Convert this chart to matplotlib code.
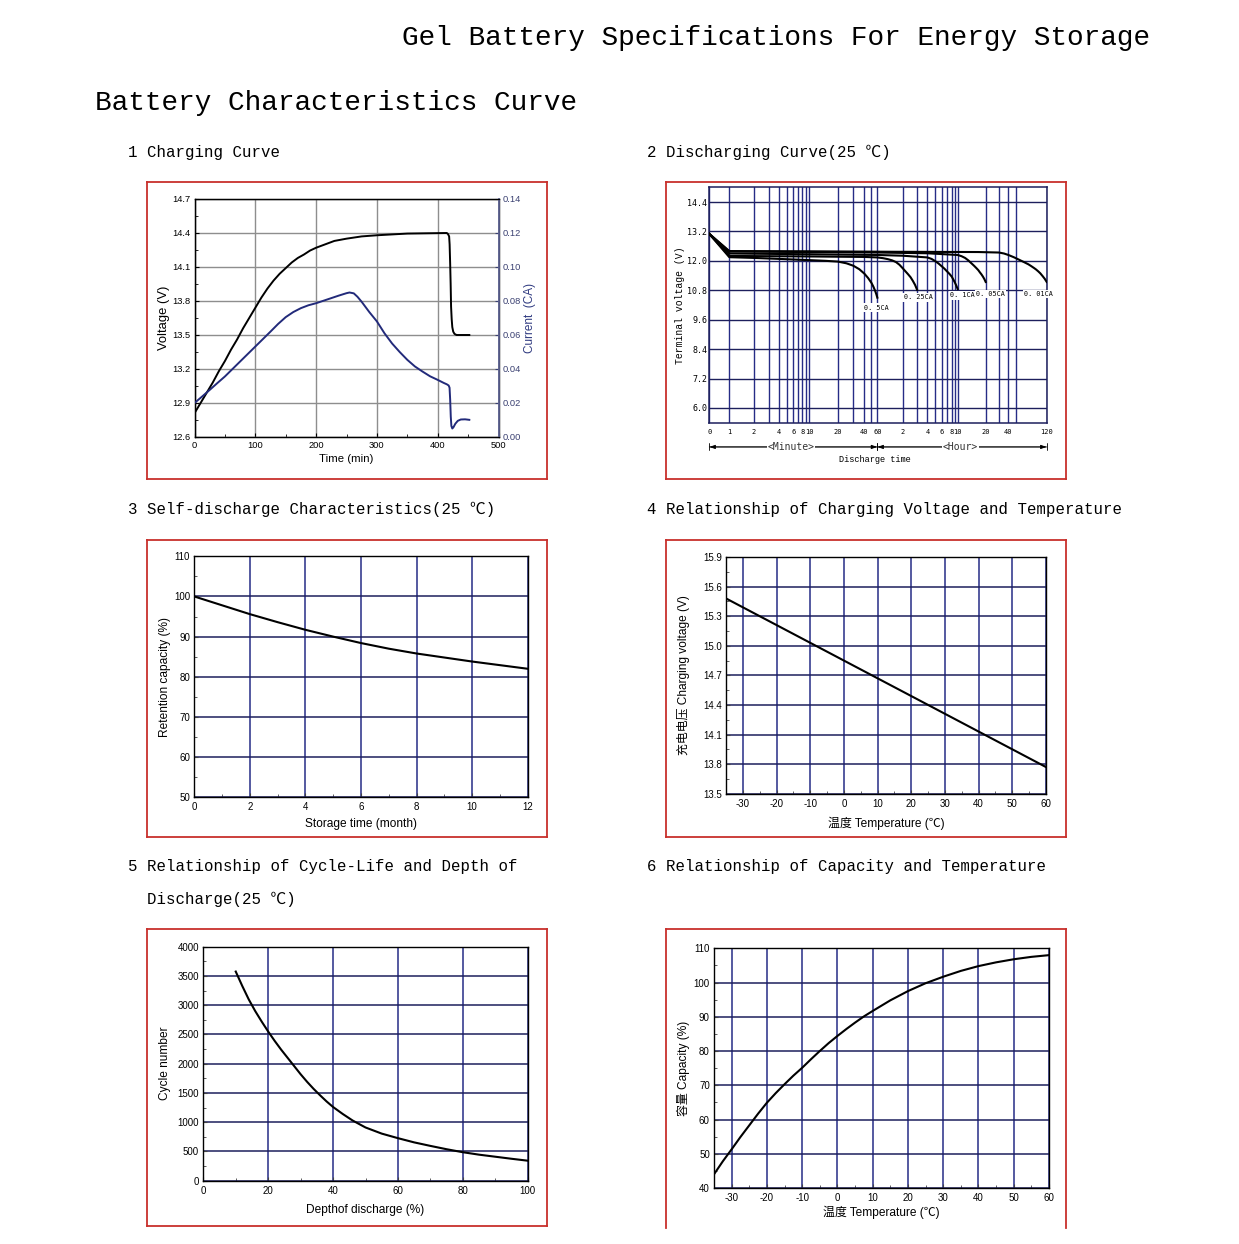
import numpy as np
import matplotlib
matplotlib.use("Agg")
import matplotlib.pyplot as plt
import matplotlib.transforms as mtransforms
from matplotlib.lines import Line2D
from matplotlib.ticker import MultipleLocator, FixedLocator, FormatStrFormatter, NullFormatter

plt.rcParams['axes.unicode_minus'] = False
MONO = ['Liberation Mono', 'Noto Sans CJK SC', 'DejaVu Sans']
SANS = ['Liberation Sans', 'Noto Sans CJK SC', 'DejaVu Sans']
DIGI = ['DejaVu Sans Mono', 'Noto Sans CJK SC']
plt.rcParams['font.family'] = SANS

# ---------------- texts ----------------
main_title = "Gel Battery Specifications For Energy Storage"
section_title = "Battery Characteristics Curve"
sub_titles = ["1 Charging Curve", "2 Discharging Curve(25 ℃)",
              "3 Self-discharge Characteristics(25 ℃)",
              "4 Relationship of Charging Voltage and Temperature",
              "5 Relationship of Cycle-Life and Depth of", "Discharge(25 ℃)",
              "6 Relationship of Capacity and Temperature"]

# ---------------- 1 charging curve ----------------
charge_time_v = [0, 10, 20, 30, 40, 50, 60, 70, 80, 90, 100, 110, 120, 130, 140, 150, 160, 170, 180, 190, 200,
                 215, 230, 250, 275, 300, 350, 415, 417, 418.8, 419.6, 420.5, 421.3, 422, 423, 424, 425.5,
                 427.6, 431, 452]
charge_voltage = [12.81, 12.9, 12.99, 13.08, 13.18, 13.27, 13.37, 13.46, 13.56, 13.65, 13.74, 13.83, 13.91,
                  13.98, 14.04, 14.09, 14.14, 14.18, 14.21, 14.245, 14.27, 14.3, 14.33, 14.35, 14.37, 14.38,
                  14.395, 14.4, 14.39, 14.37, 14.3, 14.13, 13.95, 13.75, 13.64, 13.57, 13.53, 13.51, 13.5, 13.5]
charge_time_i = [0, 12.5, 25, 37.5, 50, 62.5, 75, 87.5, 100, 112.5, 125, 137.5, 150, 162.5, 175, 187.5, 200,
                 212.5, 225, 237.5, 250, 255, 262, 268, 275, 287.5, 300, 312.5, 325, 337.5, 350, 362.5, 375,
                 387.5, 400, 410, 415, 418, 419.5, 420.5, 421.5, 422.5, 424, 426, 429, 433, 438, 445, 452]
charge_current = [0.020, 0.0238, 0.0277, 0.0317, 0.0356, 0.040, 0.0444, 0.0488, 0.0532, 0.0576, 0.062,
                  0.0665, 0.0705, 0.0735, 0.0758, 0.0775, 0.0787, 0.0802, 0.0817, 0.0832, 0.0846, 0.085,
                  0.0845, 0.0825, 0.0795, 0.0735, 0.068, 0.061, 0.055, 0.050, 0.0454, 0.0415, 0.0385, 0.0357,
                  0.0336, 0.0318, 0.031, 0.0303, 0.029, 0.022, 0.012, 0.0065, 0.005, 0.0058, 0.0078, 0.0095,
                  0.0103, 0.0104, 0.0101]

# ---------------- 2 discharging curve (time in minutes) ----------------
dis_labels = ['0. 5CA', '0. 25CA', '0. 1CA', '0. 05CA', '0. 01CA']
t_05 = [0, 1, 2, 4, 10, 15, 20, 25, 30, 35, 40, 45, 50, 53, 56, 58, 60]
v_05 = [13.1, 12.15, 12.12, 12.08, 12.03, 12.0, 11.97, 11.9, 11.8, 11.66, 11.48, 11.3, 11.1, 10.95, 10.78,
        10.65, 10.5]
t_025 = [0, 1, 10, 40, 60, 70, 80, 90, 100, 110, 120, 130, 140, 150, 160, 170, 180]
v_025 = [13.1, 12.2, 12.18, 12.16, 12.14, 12.11, 12.07, 12.02, 11.95, 11.84, 11.7, 11.57, 11.45, 11.33, 11.18,
         11.02, 10.82]
t_01 = [0, 1, 10, 60, 120, 240, 270, 300, 330, 360, 390, 420, 450, 480, 510, 540, 570, 600]
v_01 = [13.1, 12.3, 12.27, 12.24, 12.21, 12.14, 12.08, 11.99, 11.89, 11.78, 11.68, 11.57, 11.47, 11.36, 11.24,
        11.12, 10.99, 10.85]
t_005 = [0, 1, 10, 60, 240, 600, 660, 720, 780, 849, 900, 950, 1000, 1040, 1080, 1120, 1160, 1200]
v_005 = [13.1, 12.38, 12.36, 12.34, 12.31, 12.24, 12.19, 12.12, 12.02, 11.89, 11.8, 11.71, 11.62, 11.53, 11.45,
         11.36, 11.26, 11.14]
t_001 = [0, 1, 10, 100, 1000, 1800, 2100, 2400, 2800, 3197, 3700, 4257, 4600, 5000, 5300, 5660, 6000, 6400,
         6800, 7200]
v_001 = [13.1, 12.4, 12.39, 12.37, 12.36, 12.34, 12.3, 12.24, 12.15, 12.06, 11.96, 11.86, 11.79, 11.71, 11.65,
         11.57, 11.49, 11.38, 11.27, 11.14]
dis_times = [t_05, t_025, t_01, t_005, t_001]
dis_volts = [v_05, v_025, v_01, v_005, v_001]
dis_tick_min = [0, 1, 2, 4, 6, 8, 10, 20, 40, 60, 120, 240, 360, 480, 600, 1200, 2400, 7200]
dis_tick_lbl = ['0', '1', '2', '4', '6', '8', '10', '20', '40', '60', '2', '4', '6', '8', '10', '20', '40',
                '120']
dis_grid_min = [3, 5, 7, 9, 30, 50, 180, 300, 420, 540, 1800, 3000]
dis_yticks = [6.0, 7.2, 8.4, 9.6, 10.8, 12.0, 13.2, 14.4]
# relative position of the time ticks along the discharge axis (defines the nonlinear scale)
axis_knot_pos = [133, 193, 267, 342, 385, 412, 432, 519, 598, 637, 713, 787, 830, 860, 878, 962, 1030, 1145]

# ---------------- 3 self discharge ----------------
store_month = [0, 1, 2, 3, 4, 5, 6, 7, 8, 9, 10, 11, 12]
retention = [100, 97.8, 95.6, 93.6, 91.7, 90.0, 88.4, 87.0, 85.8, 84.8, 83.8, 82.9, 82.0]

# ---------------- 4 charging voltage vs temp ----------------
cv_temp = [-35, -20, 0, 20, 40, 60]
cv_volt = [15.48, 15.21, 14.85, 14.49, 14.13, 13.77]

# ---------------- 5 cycle life ----------------
dod = [10, 12, 14, 16, 18, 20, 22, 24, 26, 28, 30, 32, 34, 36, 38, 40, 43, 46, 50, 55, 60, 65, 70, 75, 80, 85,
       90, 95, 100]
cycles = [3575, 3330, 3100, 2900, 2720, 2550, 2390, 2240, 2100, 1960, 1820, 1690, 1570, 1460, 1355, 1260, 1140,
          1030, 910, 805, 727, 655, 595, 538, 487, 445, 410, 375, 342]

# ---------------- 6 capacity vs temp ----------------
cap_temp = [-35, -32.5, -30, -27.5, -25, -22.5, -20, -17.5, -15, -12.5, -10, -7.5, -5, -2.5, 0, 2.5, 5, 7.5, 10,
            15, 20, 25, 30, 35, 40, 45, 50, 55, 60]
capacity = [44, 47.8, 51.3, 54.9, 58.3, 61.7, 64.9, 67.7, 70.3, 72.8, 75.1, 77.6, 80.0, 82.3, 84.4, 86.4, 88.3,
            90.1, 91.7, 94.8, 97.5, 99.8, 101.7, 103.4, 104.8, 105.9, 106.8, 107.5, 108.0]

# ======================================================================
W, H = 1239, 1244
fig = plt.figure(figsize=(W / 100, H / 100), dpi=100)


def frect(left, top, right, bottom):
    return [left / W, 1 - bottom / H, (right - left) / W, (bottom - top) / H]


def ftext(x, y, s, **kw):
    fig.text(x / W, 1 - y / H, s, **kw)


RED = '#c8302c'


def red_box(left, top, right, bottom, sides='ltrb'):
    xs = {'l': [(left, top), (left, bottom)], 'r': [(right, top), (right, bottom)],
          't': [(left, top), (right, top)], 'b': [(left, bottom), (right, bottom)]}
    for s in sides:
        (x0, y0), (x1, y1) = xs[s]
        fig.add_artist(Line2D([x0 / W, x1 / W], [1 - y0 / H, 1 - y1 / H], color=RED, lw=1.3,
                              transform=fig.transFigure))


# titles
ftext(402, 38, main_title, fontsize=20, family=MONO, va='center', ha='left')
ftext(95, 103, section_title, fontsize=20, family=MONO, va='center', ha='left')
sub_pos = [(128, 152), (647, 152), (128, 509), (647, 509), (128, 867), (147, 899), (647, 867)]
for (x, y), s in zip(sub_pos, sub_titles):
    ftext(x, y, s, fontsize=11.3, family=MONO, va='center', ha='left')

red_box(147, 182, 547, 479)
red_box(666, 182, 1066, 479)
red_box(147, 540, 547, 837)
red_box(666, 540, 1066, 837)
red_box(147, 929, 547, 1226)
red_box(666, 929, 1066, 1228, sides='ltr')

NAVY_V = '#262c86'
NAVY_H = '#1d1f5c'

# ---------------- panel 1 ----------------
ax1 = fig.add_axes(frect(194.5, 199, 498.5, 437))
ax1.plot(charge_time_v, charge_voltage, color='black', lw=1.4, zorder=4)
ax1.set_xlim(0, 500)
ax1.set_ylim(12.6, 14.7)
ax1.xaxis.set_major_locator(MultipleLocator(100))
ax1.xaxis.set_minor_locator(MultipleLocator(50))
ax1.yaxis.set_major_locator(FixedLocator([12.6, 12.9, 13.2, 13.5, 13.8, 14.1, 14.4, 14.7]))
ax1.yaxis.set_minor_locator(FixedLocator([12.75, 13.05, 13.35, 13.65, 13.95, 14.25, 14.55]))
ax1.yaxis.set_major_formatter(FormatStrFormatter('%.1f'))
ax1.grid(True, which='major', color='#8e8e8e', lw=1.0)
ax1.tick_params(which='both', direction='in', labelsize=6.7, pad=3)
ax1.tick_params(which='major', length=3)
ax1.tick_params(which='minor', length=2.5)
ax1.set_xlabel('Time (min)', fontsize=8.2, labelpad=3)
ax1.set_ylabel('Voltage (V)', fontsize=9.4, labelpad=1.5)
for s in ax1.spines.values():
    s.set_linewidth(1.0)
ax1b = ax1.twinx()
ax1b.plot(charge_time_i, charge_current, color='#222a7a', lw=1.4, zorder=4)
ax1b.set_ylim(0, 0.14)
ax1b.yaxis.set_major_locator(MultipleLocator(0.02))
ax1b.yaxis.set_major_formatter(FormatStrFormatter('%.2f'))
ax1b.tick_params(direction='in', labelsize=6.7, length=3, colors='#3b4172', pad=3)
ax1b.spines['right'].set_color('#5b6190')
ax1b.spines['right'].set_linewidth(1.3)
ax1b.set_ylabel('Current  (CA)', fontsize=8.5, color='#2f3a80', labelpad=2)

# ---------------- panel 2 ----------------
_kmin = np.array(dis_tick_min, dtype=float)
_kpos = (np.array(axis_knot_pos, dtype=float) - axis_knot_pos[0]) / (axis_knot_pos[-1] - axis_knot_pos[0])


def _u(x):
    x = np.asarray(x, dtype=float)
    return np.where(x >= 1, np.log10(np.maximum(x, 1e-12)), x - 1)


def _uinv(u):
    u = np.asarray(u, dtype=float)
    return np.where(u >= 0, 10 ** np.clip(u, -20, 20), u + 1)


_ku = _u(_kmin)


def _interp_ext(x, xp, fp):
    x = np.asarray(x, dtype=float)
    y = np.interp(x, xp, fp)
    s0 = (fp[1] - fp[0]) / (xp[1] - xp[0])
    s1 = (fp[-1] - fp[-2]) / (xp[-1] - xp[-2])
    y = np.where(x < xp[0], fp[0] + (x - xp[0]) * s0, y)
    y = np.where(x > xp[-1], fp[-1] + (x - xp[-1]) * s1, y)
    return y


def fwd(x):
    return _interp_ext(_u(x), _ku, _kpos)


def inv(y):
    return _uinv(_interp_ext(y, _kpos, _ku))


ax2 = fig.add_axes(frect(709.3, 187.3, 1046.7, 422.7))
ax2.set_xscale('function', functions=(fwd, inv))
for t, v in zip(dis_times, dis_volts):
    ax2.plot(t, v, color='black', lw=1.5, zorder=3)
ax2.set_xlim(0, 7200)
ax2.set_ylim(5.4, 15.0)
ax2.xaxis.set_major_locator(FixedLocator(dis_tick_min))
ax2.xaxis.set_major_formatter(plt.FixedFormatter(dis_tick_lbl))
ax2.xaxis.set_minor_locator(FixedLocator(dis_grid_min))
ax2.xaxis.set_minor_formatter(NullFormatter())
ax2.yaxis.set_major_locator(FixedLocator(dis_yticks))
ax2.yaxis.set_major_formatter(FormatStrFormatter('%.1f'))
ax2.yaxis.set_minor_locator(FixedLocator([5.4 + 0.6 * k for k in range(1, 16, 2)]))
ax2.grid(True, which='both', axis='x', color=NAVY_V, lw=1.0)
ax2.grid(True, which='both', axis='y', color=NAVY_H, lw=1.0)
ax2.tick_params(which='both', length=0, labelsize=5.0)
ax2.tick_params(axis='x', pad=4.5)
ax2.tick_params(axis='y', pad=1.5, labelsize=6)
for lab in ax2.get_xticklabels() + ax2.get_yticklabels():
    lab.set_family(DIGI)
for s in ax2.spines.values():
    s.set_color(NAVY_H)
    s.set_linewidth(1.1)
ax2.set_ylabel('Terminal voltage (V)', fontsize=7, family=MONO, labelpad=1.5)
label_xy = [(40, 10.09), (124, 10.51), (457, 10.59), (945, 10.65), (3760, 10.65)]
for (x, y), s in zip(label_xy, dis_labels):
    ax2.text(x, y, s, fontsize=4.9, family=DIGI, ha='left', va='center', zorder=5,
             bbox=dict(fc='white', ec='none', pad=1.0))
trans = mtransforms.blended_transform_factory(ax2.transData, ax2.transAxes)
for x0, x1 in [(0, 60), (60, 7200)]:
    ax2.annotate('', xy=(x1, -0.103), xytext=(x0, -0.103), xycoords=trans, textcoords=trans,
                 arrowprops=dict(arrowstyle='<|-|>, head_length=0.35, head_width=0.12', lw=0.6,
                                 color='black', shrinkA=0, shrinkB=0), annotation_clip=False)
    ax2.annotate('', xy=(x1, -0.103), xytext=(x0, -0.103), xycoords=trans, textcoords=trans,
                 arrowprops=dict(arrowstyle='|-|, widthA=0.25, widthB=0.25', lw=0.6,
                                 color='black', shrinkA=0, shrinkB=0), annotation_clip=False)
ax2.text(5.6, -0.103, '<Minute>', transform=trans, fontsize=7, family=DIGI, ha='center', va='center',
         bbox=dict(fc='white', ec='none', pad=0.6), clip_on=False, color='#333333')
ax2.text(640, -0.103, '<Hour>', transform=trans, fontsize=7, family=DIGI, ha='center', va='center',
         bbox=dict(fc='white', ec='none', pad=0.6), clip_on=False, color='#333333')
ax2.text(56, -0.158, 'Discharge time', transform=trans, fontsize=6.2, family=MONO, ha='center',
         va='center', clip_on=False)


# ---------------- generic panels ----------------
def std_panel(rect, x, y, xlim, ylim, xmaj, xmin, ymaj, ymin, xlabel, ylabel, yfmt=None,
              xlabelpad=4, ylabelpad=3, xpad=3.5, ypad=3):
    ax = fig.add_axes(frect(*rect))
    ax.plot(x, y, color='black', lw=1.5, zorder=3)
    ax.set_xlim(*xlim)
    ax.set_ylim(*ylim)
    ax.xaxis.set_major_locator(MultipleLocator(xmaj))
    ax.xaxis.set_minor_locator(MultipleLocator(xmin))
    ax.yaxis.set_major_locator(MultipleLocator(ymaj))
    ax.yaxis.set_minor_locator(MultipleLocator(ymin))
    if yfmt:
        ax.yaxis.set_major_formatter(FormatStrFormatter(yfmt))
    ax.grid(True, which='major', axis='x', color=NAVY_V, lw=1.1)
    ax.grid(True, which='major', axis='y', color=NAVY_H, lw=1.1)
    ax.tick_params(which='both', direction='in', labelsize=7, color='#444444')
    ax.tick_params(which='major', length=3)
    ax.tick_params(which='minor', length=2.5)
    ax.tick_params(axis='x', pad=xpad)
    ax.tick_params(axis='y', pad=ypad)
    for s in ax.spines.values():
        s.set_color('black')
        s.set_linewidth(1.0)
    ax.set_xlabel(xlabel, fontsize=8.6, labelpad=xlabelpad, family=SANS)
    ax.set_ylabel(ylabel, fontsize=8.6, labelpad=ylabelpad, family=SANS)
    return ax


std_panel((194.3, 556.3, 527.7, 797.3), store_month, retention, (0, 12), (50, 110), 2, 1, 10, 5,
          'Storage time (month)', 'Retention capacity (%)', xlabelpad=4, ylabelpad=2.5)
std_panel((726, 557, 1046, 793.7), cv_temp, cv_volt, (-35, 60), (13.5, 15.9), 10, 5, 0.3, 0.15,
          '温度 Temperature (℃)', '充电电压 Charging voltage (V)', yfmt='%.1f', xlabelpad=5.5, ylabelpad=9)
std_panel((203.3, 946.7, 527.7, 1180.7), dod, cycles, (0, 100), (0, 4000), 20, 10, 500, 250,
          'Depthof discharge (%)', 'Cycle number', xlabelpad=6, ylabelpad=5)
std_panel((714, 948.3, 1049, 1188), cap_temp, capacity, (-35, 60), (40, 110), 10, 5, 10, 5,
          '温度 Temperature (℃)', '容量 Capacity (%)', xlabelpad=2, ylabelpad=3)

fig.savefig('out.png', dpi=100, facecolor='white')
